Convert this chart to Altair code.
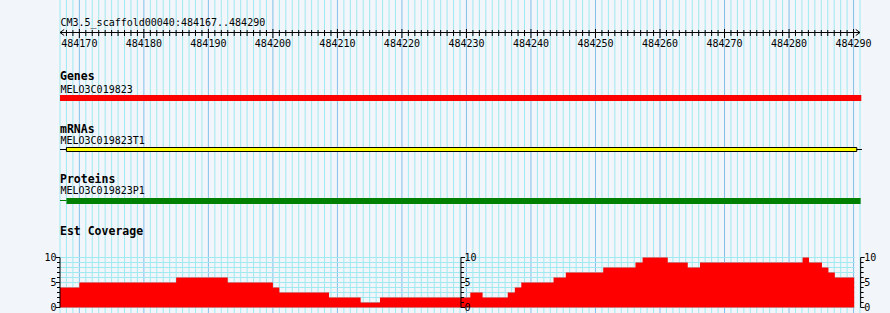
import altair as alt
import pandas as pd

# ---------------- data ----------------
ref_title = "CM3.5_scaffold00040:484167..484290"
view_start = 484167
view_end = 484291  # end edge of last base 484290

ruler_labels = [484170, 484180, 484190, 484200, 484210, 484220, 484230,
                484240, 484250, 484260, 484270, 484280, 484290]

track_titles = ["Genes", "mRNAs", "Proteins", "Est Coverage"]
feature_names = ["MELO3C019823", "MELO3C019823T1", "MELO3C019823P1"]

gene_start, gene_end = 484167, 484291.2
mrna_line_start, mrna_line_end = 484167, 484291.3
mrna_start, mrna_end = 484168, 484290.5
protein_line_start = 484167
protein_start, protein_end = 484168, 484291.1

cov_bounds = [484167, 484170, 484185, 484193, 484200, 484201, 484208.7,
              484213.6, 484216.6, 484230.6, 484232.5, 484236.4, 484237.5,
              484238.5, 484243.5, 484245.4, 484251.2, 484256.2, 484257.3,
              484261.2, 484264.3, 484266.2, 484282.1, 484283.1, 484285.1,
              484286.1, 484287.1, 484290.1]
cov_values = [4, 5, 6, 5, 4, 3, 2, 1, 2, 3, 2, 3, 4, 5, 6, 7, 8, 9, 10, 9,
              8, 9, 10, 9, 8, 7, 6]
cov_axis_pos = [484167, 484229.15, 484291.1]
cov_axis_side = ["left", "right", "right"]
cov_tick_values = list(range(0, 11))
cov_label_values = [0, 5, 10]
cov_grid_end = 484290.2

# ---------------- styling ----------------
BG = "#F2F5FA"
MINOR = "#9EEAF0"
MAJOR = "#82C0EA"
MONO = "DejaVu Sans Mono"

xs = alt.Scale(domain=[view_start, view_end], nice=False, zero=False)
ys = alt.Scale(domain=[0, 10], range=[307.5, 257.5], nice=False, zero=True)


def X(field="x"):
    return alt.X(f"{field}:Q", scale=xs, axis=None)


layers = []

# vertical grid
grid = pd.DataFrame({"x": list(range(view_start, view_end + 1))})
grid["major"] = grid["x"] % 10 == 0
layers.append(
    alt.Chart(grid[~grid["major"]]).mark_rule(color=MINOR, strokeWidth=1).encode(
        x=X(), y=alt.value(0), y2=alt.value(313))
)
layers.append(
    alt.Chart(grid[grid["major"]]).mark_rule(color=MAJOR, strokeWidth=1).encode(
        x=X(), y=alt.value(0), y2=alt.value(313))
)

# horizontal grid of the coverage track
hgrid = pd.DataFrame({"v": cov_tick_values, "x": view_start, "x2": cov_grid_end})
layers.append(
    alt.Chart(hgrid).mark_rule(color=MINOR, strokeWidth=1).encode(
        x=X(), x2="x2:Q", y=alt.Y("v:Q", scale=ys, axis=None))
)

# coverage as a step area
cov = pd.DataFrame({"x": cov_bounds, "v": cov_values + [cov_values[-1]], "z": 0})
layers.append(
    alt.Chart(cov).mark_area(color="#FF0000", interpolate="step-after", opacity=1).encode(
        x=X(), y=alt.Y("v:Q", scale=ys, axis=None), y2="z:Q")
)

# ruler line
ruler = pd.DataFrame({"x": [view_start], "x2": [view_end]})
layers.append(
    alt.Chart(ruler).mark_rule(color="black", strokeWidth=1).encode(
        x=X(), x2="x2:Q", y=alt.value(32.5))
)
arrows = pd.DataFrame({"x": [view_start], "x_r": [view_end]})
layers.append(
    alt.Chart(arrows).mark_point(shape="M1.4,-1L0,0L1.4,1", size=36, filled=False,
                                 color="black", strokeWidth=1, opacity=1).encode(
        x=X(), y=alt.value(32.5))
)
layers.append(
    alt.Chart(arrows).mark_point(shape="M-1.4,-1L0,0L-1.4,1", size=36, filled=False,
                                 color="black", strokeWidth=1, opacity=1).encode(
        x=X("x_r"), y=alt.value(32.5))
)
ticks = pd.DataFrame({"x": list(range(view_start + 1, view_end))})
ticks["major"] = ticks["x"] % 10 == 0
layers.append(
    alt.Chart(ticks[~ticks["major"]]).mark_rule(color="black").encode(
        x=X(), y=alt.value(30), y2=alt.value(36))
)
layers.append(
    alt.Chart(ticks[ticks["major"]]).mark_rule(color="black").encode(
        x=X(), y=alt.value(29), y2=alt.value(38))
)
rl = pd.DataFrame({"x": ruler_labels, "t": [str(v) for v in ruler_labels]})
layers.append(
    alt.Chart(rl).mark_text(font=MONO, fontSize=10, align="center", baseline="alphabetic",
                            color="black").encode(x=X(), y=alt.value(46.5), text="t:N")
)

# text labels (titles + feature names)
txt = pd.DataFrame({
    "x": [view_start] * 8,
    "t": [ref_title, track_titles[0], feature_names[0], track_titles[1], feature_names[1],
          track_titles[2], feature_names[2], track_titles[3]],
    "bold": [False, True, False, True, False, True, False, True],
    "yy": [25.5, 79.5, 92.5, 132.5, 143.5, 182.5, 193.5, 234.5],
})
layers.append(
    alt.Chart(txt[~txt["bold"]]).mark_text(font=MONO, fontSize=10, align="left",
                                           baseline="alphabetic", color="black", dx=0.5).encode(
        x=X(), y=alt.Y("yy:Q", scale=None), text="t:N")
)
layers.append(
    alt.Chart(txt[txt["bold"]]).mark_text(font=MONO, fontSize=11.5, fontWeight="bold",
                                          align="left", baseline="alphabetic",
                                          color="black").encode(
        x=X(), y=alt.Y("yy:Q", scale=None), text="t:N")
)

# gene bar
gene = pd.DataFrame({"x": [gene_start], "x2": [gene_end]})
layers.append(
    alt.Chart(gene).mark_rect(color="#FF0000").encode(
        x=X(), x2="x2:Q", y=alt.value(95), y2=alt.value(101))
)

# mRNA
ml = pd.DataFrame({"x": [mrna_line_start], "x2": [mrna_line_end]})
layers.append(
    alt.Chart(ml).mark_rule(color="black", strokeWidth=1).encode(
        x=X(), x2="x2:Q", y=alt.value(149.5))
)
mb = pd.DataFrame({"x": [mrna_start], "x2": [mrna_end]})
layers.append(
    alt.Chart(mb).mark_rect(fill="#FFFF00", stroke="black", strokeWidth=1).encode(
        x=X(), x2="x2:Q", y=alt.value(147.5), y2=alt.value(151.5))
)

# protein
pl = pd.DataFrame({"x": [protein_line_start], "x2": [protein_start]})
layers.append(
    alt.Chart(pl).mark_rule(color="#008000", strokeWidth=1).encode(
        x=X(), x2="x2:Q", y=alt.value(200.5))
)
pb = pd.DataFrame({"x": [protein_start], "x2": [protein_end]})
layers.append(
    alt.Chart(pb).mark_rect(color="#008000").encode(
        x=X(), x2="x2:Q", y=alt.value(198), y2=alt.value(204))
)

# coverage axes
for pos, side in zip(cov_axis_pos, cov_axis_side):
    sgn = -1 if side == "left" else 1
    ax = pd.DataFrame({"x": [pos], "a": [0], "b": [10]})
    layers.append(
        alt.Chart(ax).mark_rule(color="black", strokeWidth=1).encode(
            x=X(), y=alt.Y("a:Q", scale=ys, axis=None), y2="b:Q")
    )
    tk = pd.DataFrame({"x": pos, "x2": pos, "v": cov_tick_values})
    tk["major"] = tk["v"] % 5 == 0
    layers.append(
        alt.Chart(tk[~tk["major"]]).mark_rule(color="black", strokeWidth=1,
                                               x2Offset=sgn * 3).encode(
            x=X(), x2="x2:Q", y=alt.Y("v:Q", scale=ys, axis=None))
    )
    layers.append(
        alt.Chart(tk[tk["major"]]).mark_rule(color="black", strokeWidth=1,
                                              x2Offset=sgn * 4).encode(
            x=X(), x2="x2:Q", y=alt.Y("v:Q", scale=ys, axis=None))
    )
    lb = pd.DataFrame({"x": pos, "v": cov_label_values,
                       "t": [str(v) for v in cov_label_values]})
    layers.append(
        alt.Chart(lb).mark_text(font=MONO, fontSize=10, color="black",
                                align="right" if side == "left" else "left",
                                baseline="middle", dx=sgn * 3.5).encode(
            x=X(), y=alt.Y("v:Q", scale=ys, axis=None), text="t:N")
    )

chart = alt.layer(*layers).properties(
    width=800, height=313,
    padding={"left": 60, "right": 30, "top": 0, "bottom": 0},
    autosize=alt.AutoSizeParams(type="none"),
    background=BG,
).configure_view(stroke=None, fill=None)

chart.save("out.html", embed_options={"renderer": "svg", "actions": False})
